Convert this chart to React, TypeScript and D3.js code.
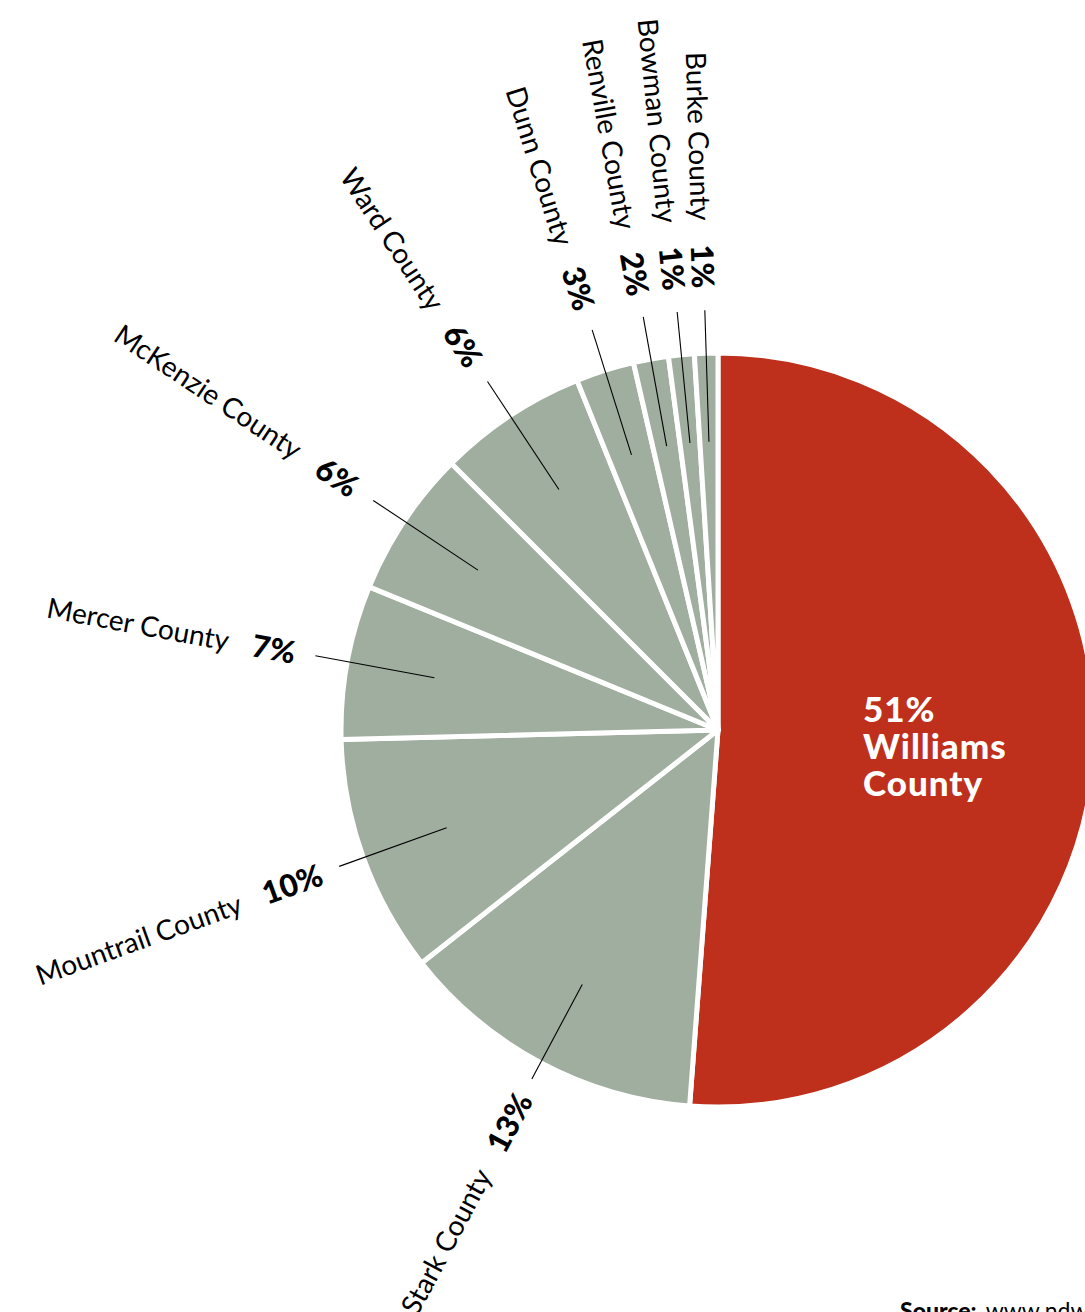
import React from "react";
import * as d3 from "d3";

const counties = ["Williams County", "Stark County", "Mountrail County", "Mercer County", "McKenzie County", "Ward County", "Dunn County", "Renville County", "Bowman County", "Burke County"];
const shares = [51.2, 13.2, 10.2, 6.6, 6.3, 6.4, 2.5, 1.5, 1.1, 1.0];
const percentLabels = ["51%", "13%", "10%", "7%", "6%", "6%", "3%", "2%", "1%", "1%"];
const sourceLabel = "Source:";
const sourceText = "www.ndwater.net";

const W = 1085;
const H = 1312;
const CX = 718;
const CY = 730;
const R = 377;
const RED = "#BE2F1C";
const GREY = "#A0AE9F";
const FONT = "Lato, 'Open Sans', 'Noto Sans', sans-serif";

export default function App() {
  const data = counties.map((c, i) => ({ name: c, value: shares[i], pct: percentLabels[i], i }));
  const pie = d3.pie<any>().sort(null).value((d: any) => d.value).startAngle(0).endAngle(2 * Math.PI);
  const arcs = pie(data);
  const arc = d3.arc<any>().innerRadius(0).outerRadius(R);
  const pt = (a: number, r: number) => [r * Math.sin(a), -r * Math.cos(a)];

  return (
    <svg width={W} height={H} style={{ position: "absolute", left: 0, top: 0, display: "block", overflow: "hidden" }}>
      <rect width={W} height={H} fill="#fff" />
      <g transform={`translate(${CX},${CY})`}>
        {arcs.map((a, i) => (
          <path key={i} d={arc(a) as string} fill={i === 0 ? RED : GREY} stroke="#fff" strokeWidth={5} strokeLinejoin="round" />
        ))}
        {arcs.map((a, i) => {
          if (i === 0) return null;
          const mid = (a.startAngle + a.endAngle) / 2;
          const c = Math.cos(mid);
          const [x1, y1] = pt(mid, R * 0.765);
          const [x2, y2] = pt(mid, 407 + 13 * c);
          const [tx, ty] = pt(mid, 427 + 15 * c);
          const rot = (mid * 180) / Math.PI + 90;
          return (
            <g key={"l" + i}>
              <line x1={x1} y1={y1} x2={x2} y2={y2} stroke="#000" strokeWidth={1.1} />
              <text
                transform={`translate(${tx},${ty}) rotate(${rot})`}
                textAnchor="end"
                dominantBaseline="central"
                fontFamily={FONT}
                fontSize={28}
                fill="#000"
              >
                <tspan>{a.data.name}</tspan>
                <tspan dx={24} fontWeight={900} fontSize={31}>{a.data.pct}</tspan>
              </text>
            </g>
          );
        })}
      </g>
      <text x={863} y={722} fontFamily={FONT} fontWeight={900} fontSize={35} letterSpacing={1} fill="#fff">
        <tspan x={863}>{percentLabels[0]}</tspan>
        <tspan x={863} dy={37}>{counties[0].split(" ")[0]}</tspan>
        <tspan x={863} dy={37}>{counties[0].split(" ")[1]}</tspan>
      </text>
      <text x={900} y={1319} fontFamily={FONT} fontSize={23} fill="#000">
        <tspan fontWeight={900}>{sourceLabel}</tspan>
        <tspan dx={9}>{sourceText}</tspan>
      </text>
    </svg>
  );
}
